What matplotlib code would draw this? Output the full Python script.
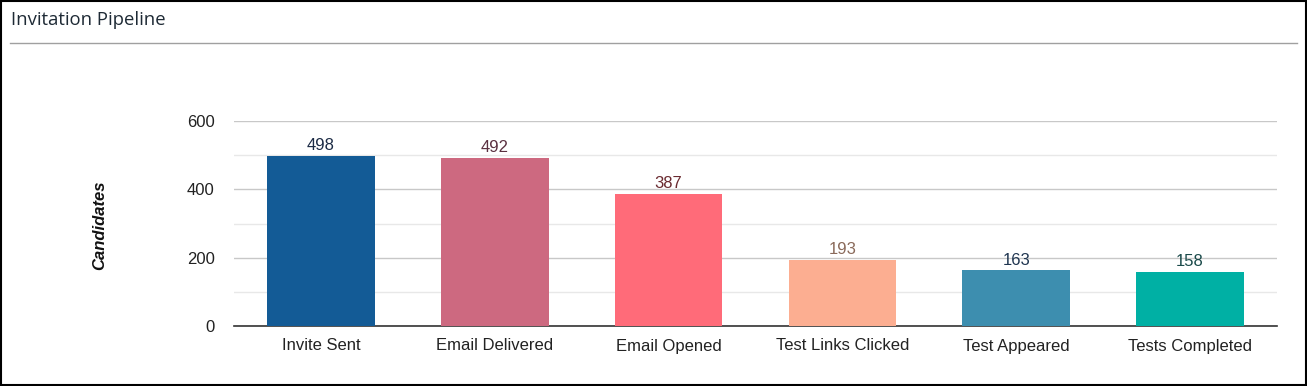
import matplotlib.pyplot as plt
from matplotlib.patches import Rectangle
from matplotlib.lines import Line2D

# donnees
stages = ['Invite Sent', 'Email Delivered', 'Email Opened',
          'Test Links Clicked', 'Test Appeared', 'Tests Completed']
candidates = [498, 492, 387, 193, 163, 158]
bar_colors = ['#135b96', '#cd6980', '#ff6b79', '#fcae91', '#3d8eaf', '#00b0a4']
label_colors = ['#1c2b45', '#5a3040', '#6a2a30', '#8a6a5a', '#1f3550', '#1a4a4a']

fig = plt.figure(figsize=(13.07, 3.86), dpi=100)

# cadre et titre
fig.add_artist(Rectangle((0.001, 0.002), 0.998, 0.996, transform=fig.transFigure,
                         fill=False, edgecolor='black', linewidth=1.5))
fig.text(11 / 1307, 1 - 20 / 386, 'Invitation Pipeline', fontsize=13.3,
         family='Open Sans', color='#1e2a35', va='center', ha='left')
fig.add_artist(Line2D([10 / 1307, 1297 / 1307], [1 - 43 / 386, 1 - 43 / 386],
                      transform=fig.transFigure, color='#a0a0a0', linewidth=1))

ax = fig.add_axes([234 / 1307, 1 - 326 / 386, (1277 - 234) / 1307, (326 - 121) / 386])
x = range(len(stages))
bars = ax.bar(x, candidates, width=0.62, color=bar_colors, zorder=3)
for i, b in enumerate(bars):
    ax.text(b.get_x() + b.get_width() / 2, b.get_height() + 8, str(candidates[i]),
            ha='center', va='bottom', fontsize=12, family='Liberation Sans',
            color=label_colors[i], zorder=4)

ax.set_xlim(-0.5, len(stages) - 0.5)
ax.set_ylim(0, 600)
ax.set_yticks([0, 200, 400, 600])
ax.set_yticks([100, 300, 500], minor=True)
ax.grid(axis='y', which='major', color='#c8c8c8', linewidth=1, zorder=0)
ax.grid(axis='y', which='minor', color='#e8e8e8', linewidth=1, zorder=0)
ax.set_xticks(list(x))
ax.set_xticklabels(stages)
for s in ['top', 'right', 'left']:
    ax.spines[s].set_visible(False)
ax.spines['bottom'].set_color('#333333')
ax.spines['bottom'].set_linewidth(1.2)
ax.tick_params(axis='both', which='both', length=0)
ax.tick_params(axis='y', pad=14)
ax.tick_params(axis='x', pad=9)
for lab in ax.get_xticklabels() + ax.get_yticklabels():
    lab.set_family('Liberation Sans')
    lab.set_fontsize(12)
    lab.set_color('#222222')

fig.text(100 / 1307, 1 - 225 / 386, 'Candidates', rotation=90, fontsize=12,
         family='Liberation Sans', fontweight='bold', fontstyle='italic',
         ha='center', va='center', color='#111111')

fig.savefig('out.png', dpi=100)
